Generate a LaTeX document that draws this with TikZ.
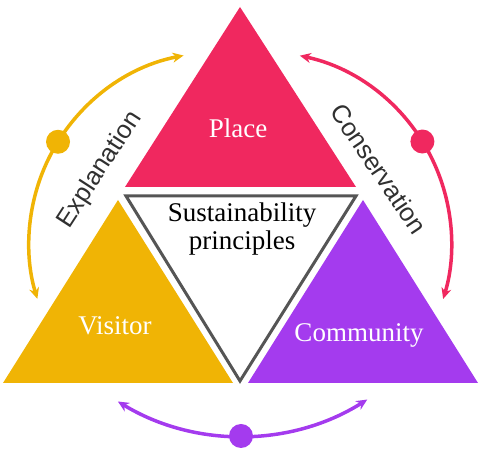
\documentclass[tikz,border=0pt]{standalone}
\usepackage{fontspec}
\setmainfont{Liberation Serif}
\newfontfamily\labelsans{Liberation Sans}
\usetikzlibrary{arrows.meta}
\definecolor{pinkc}{HTML}{F0285F}
\definecolor{yellowc}{HTML}{F0B405}
\definecolor{purplec}{HTML}{A43BEE}
\definecolor{grayc}{HTML}{555555}
\definecolor{textc}{HTML}{303030}
\begin{document}
\begin{tikzpicture}[x=1pt,y=1pt,
  tlabel/.style={text=white,font=\fontsize{27}{30}\selectfont,inner sep=0pt,anchor=base},
  clabel/.style={text=black,font=\fontsize{27}{30}\selectfont,inner sep=0pt,anchor=base},
  slabel/.style={text=textc,font=\labelsans\fontsize{25.5}{30}\selectfont,inner sep=0pt},
  arcline/.style={line width=3.5pt,{Stealth[length=11pt,width=10pt]}-{Stealth[length=11pt,width=10pt]}},
  dotmark/.style={radius=12}]
\useasboundingbox (0,0) rectangle (480,452);
% triangles
\fill[pinkc] (125,265) -- (240,445) -- (356,265) -- cycle;
\fill[yellowc] (3,69) -- (118,252) -- (233,69) -- cycle;
\fill[purplec] (248,69) -- (363,252) -- (478,69) -- cycle;
\draw[grayc,line width=3pt,fill=white,line join=miter] (126,256) -- (356,256) -- (240,71) -- cycle;
% labels
\node[tlabel] (place) at (238,314) {Place};
\node[tlabel] (visitor) at (115,117) {Visitor};
\node[tlabel] (community) at (359,110) {Community};
\node[clabel] (sus1) at (242,230) {Sustainability};
\node[clabel] (sus2) at (242,202) {principles};
% arcs
\coordinate (ycen) at (220,209);
\coordinate (pcen) at (260,209);
\coordinate (ucen) at (241,253);
\draw[arcline,yellowc] ([shift={(101:191)}]ycen) arc[start angle=101,end angle=197,radius=191];
\fill[yellowc] ([shift={(148:191)}]ycen) circle[dotmark];
\draw[arcline,pinkc] ([shift={(78:191.5)}]pcen) arc[start angle=78,end angle=-17,radius=191.5];
\fill[pinkc] ([shift={(32:191.5)}]pcen) circle[dotmark];
\draw[arcline,purplec] ([shift={(238.7:237)}]ucen) arc[start angle=238.7,end angle=302.2,radius=237];
\fill[purplec] ([shift={(270:237)}]ucen) circle[dotmark];
% side labels
\node[slabel,rotate=57] (expl) at (100,282) {Explanation};
\node[slabel,rotate=-56] (cons) at (379,283) {Conservation};
\end{tikzpicture}
\end{document}
